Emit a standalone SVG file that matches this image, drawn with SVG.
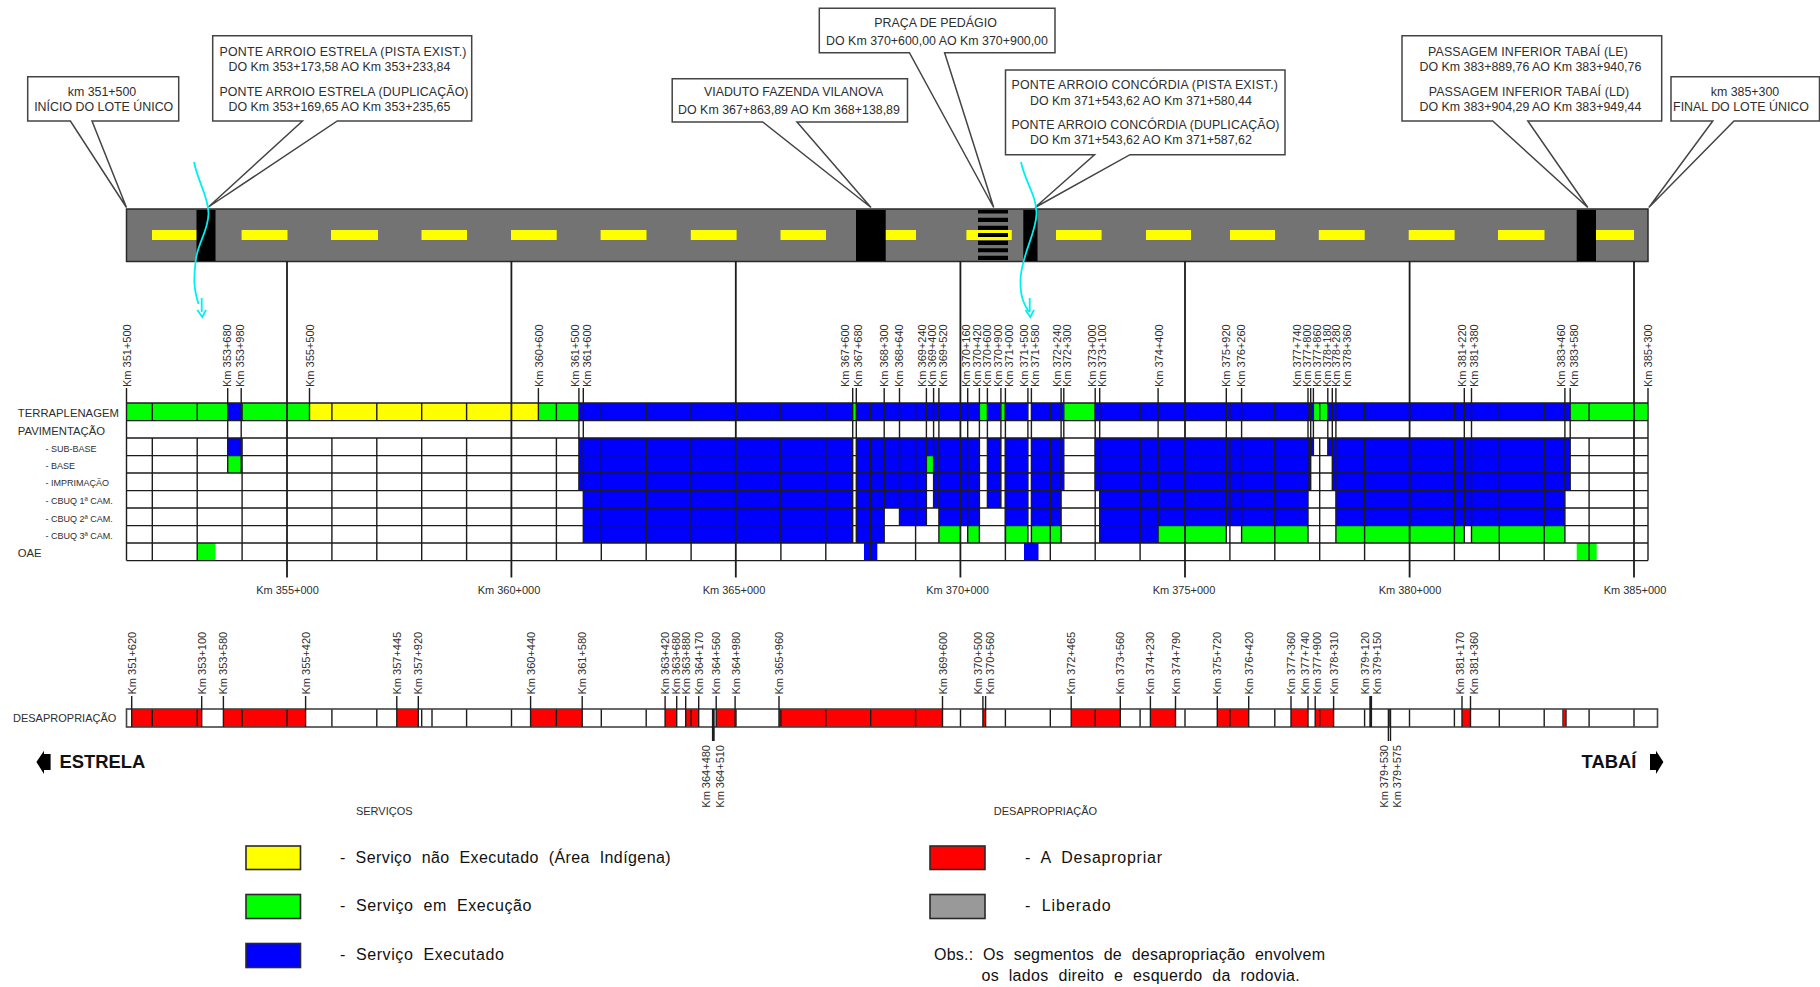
<svg xmlns="http://www.w3.org/2000/svg" width="1820" height="987" viewBox="0 0 1820 987">
<style>
text{font-family:"Liberation Sans",Arial,sans-serif;fill:#2e2e2e}
.c{font-size:12.4px}
.m{text-anchor:middle}
.k{font-size:11px}
.row{font-size:11.3px}
.sub{font-size:9px}
.dir{font-size:18.4px;font-weight:bold;fill:#111}
.leg{font-size:16px;fill:#111;word-spacing:5px}
.box{fill:#fff;stroke:#444;stroke-width:1.5}
.ln{fill:none;stroke:#1c1c1c;stroke-width:1.4}
.thick{fill:none;stroke:#1c1c1c;stroke-width:1.8}
.cy{fill:none;stroke:#00f0f0;stroke-width:1.8}
.sw{stroke:#2a2a2a;stroke-width:1.6}
</style>
<rect width="1820" height="987" fill="#fff"/>

<g id="road">
<rect x="126.5" y="209" width="1521.5" height="52.5" fill="#737373" stroke="#2a2a2a" stroke-width="1.5"/>
<path fill="#ff0" d="M152 230H197V240H152ZM241.6 230H287.5V240H241.6ZM331 230H378V240H331ZM421.5 230H467V240H421.5ZM511 230H556.7V240H511ZM600.6 230H646.5V240H600.6ZM690.8 230H736.6V240H690.8ZM780.5 230H826V240H780.5ZM885 230H916V240H885ZM966.4 230H1011.8V240H966.4ZM1056 230H1101.6V240H1056ZM1146 230H1191V240H1146ZM1230 230H1275V240H1230ZM1318.8 230H1364.7V240H1318.8ZM1408.7 230H1454.6V240H1408.7ZM1498 230H1544.5V240H1498ZM1596 230H1634V240H1596Z"/>
<path fill="#000" d="M196.5 210H215.5V261H196.5ZM856 210H885.7V261H856ZM1023.3 210H1037.5V261H1023.3ZM1576.7 210H1596V261H1576.7Z"/>
<path fill="#000" d="M978 210H1008V213.5H978ZM978 217.7H1008V222H978ZM978 225.7H1008V230H978ZM978 233H1008V237H978ZM978 240.7H1008V245H978ZM978 248.3H1008V252.3H978ZM978 255.7H1008V260H978Z"/>
</g>

<g id="callout-inicio">
<path class="box" d="M27.7 76.7H178.7V121H92L126.5 207.5L70.4 121H27.7Z"/>
<text class="c m" x="102" y="95.5">km 351+500</text>
<text class="c m" x="103.7" y="110.5">INÍCIO DO LOTE ÚNICO</text>
</g>
<g id="callout-ponte-estrela">
<path class="box" d="M212.7 35.7H471.7V121H337.3L208.4 207L302.5 121H212.7Z"/>
<text class="c" x="219.5" y="55.5" textLength="247" lengthAdjust="spacing">PONTE ARROIO ESTRELA (PISTA EXIST.)</text>
<text class="c" x="228.5" y="70.7">DO Km 353+173,58 AO Km 353+233,84</text>
<text class="c" x="219.5" y="95.7" textLength="249" lengthAdjust="spacing">PONTE ARROIO ESTRELA (DUPLICAÇÃO)</text>
<text class="c" x="228.5" y="110.5">DO Km 353+169,65 AO Km 353+235,65</text>
</g>
<g id="callout-viaduto">
<path class="box" d="M672.2 78.7H907.5V122H797L871 207.5L762.7 122H672.2Z"/>
<text class="c m" x="793.6" y="96.2">VIADUTO FAZENDA VILANOVA</text>
<text class="c m" x="789" y="114.2">DO Km 367+863,89 AO Km 368+138,89</text>
</g>
<g id="callout-pedagio">
<path class="box" d="M819.3 8.3H1055V52.7H944.6L993.7 207.5L909.4 52.7H819.3Z"/>
<text class="c m" x="935.5" y="27.3">PRAÇA DE PEDÁGIO</text>
<text class="c m" x="937" y="45.3">DO Km 370+600,00 AO Km 370+900,00</text>
</g>
<g id="callout-ponte-concordia">
<path class="box" d="M1005.5 70H1285V154.7H1130L1035 207.5L1094.5 154.7H1005.5Z"/>
<text class="c" x="1011.5" y="89.3" textLength="266.5" lengthAdjust="spacing">PONTE ARROIO CONCÓRDIA (PISTA EXIST.)</text>
<text class="c" x="1030" y="104.7">DO Km 371+543,62 AO Km 371+580,44</text>
<text class="c" x="1011.5" y="128.7" textLength="268" lengthAdjust="spacing">PONTE ARROIO CONCÓRDIA (DUPLICAÇÃO)</text>
<text class="c" x="1030" y="144.3">DO Km 371+543,62 AO Km 371+587,62</text>
</g>
<g id="callout-tabai">
<path class="box" d="M1402 35.7H1661.7V121H1527.8L1587.8 207.5L1492.7 121H1402Z"/>
<text class="c" x="1428" y="55.5" textLength="199.8" lengthAdjust="spacing">PASSAGEM INFERIOR TABAÍ (LE)</text>
<text class="c m" x="1530.4" y="70.7">DO Km 383+889,76 AO Km 383+940,76</text>
<text class="c" x="1428.7" y="95.7" textLength="200.5" lengthAdjust="spacing">PASSAGEM INFERIOR TABAÍ (LD)</text>
<text class="c m" x="1530.4" y="110.5">DO Km 383+904,29 AO Km 383+949,44</text>
</g>
<g id="callout-final">
<path class="box" d="M1671 76.7H1819.5V121H1734L1648.8 207.5L1712.8 121H1671Z"/>
<text class="c m" x="1745" y="95.5">km 385+300</text>
<text class="c m" x="1741" y="110.5">FINAL DO LOTE ÚNICO</text>
</g>

<g id="tabela-servicos">
<path fill="#00f" d="M227.7 403H241.2V420.6H227.7ZM578.9 403H852.7V420.6H578.9ZM856.3 403H979.4V420.6H856.3ZM987.4 403H1000.9V420.6H987.4ZM1005.4 403H1027.9V420.6H1005.4ZM1031.4 403H1063.8V420.6H1031.4ZM1095.2 403H1313.4V420.6H1095.2ZM1327.8 403H1570.2V420.6H1327.8Z
M227.7 438H241.2V455.6H227.7ZM578.9 438H852.7V455.6H578.9ZM856.3 438H979.4V455.6H856.3ZM987.4 438H1000.9V455.6H987.4ZM1005.4 438H1027.9V455.6H1005.4ZM1031.4 438H1063.8V455.6H1031.4ZM1095.2 438H1313.4V455.6H1095.2ZM1327.8 438H1570.2V455.6H1327.8Z
M578.9 455.6H852.7V490.6H578.9ZM856.3 455.6H926.4V490.6H856.3ZM933.6 455.6H979.4V490.6H933.6ZM987.4 455.6H1000.9V490.6H987.4ZM1005.4 455.6H1027.9V490.6H1005.4ZM1031.4 455.6H1063.8V490.6H1031.4ZM1095.2 455.6H1310.7V490.6H1095.2ZM1332.3 455.6H1570.2V490.6H1332.3Z
M583.3 490.6H852.7V508H583.3ZM856.3 490.6H926.4V508H856.3ZM933.6 490.6H979.4V508H933.6ZM987.4 490.6H1000.9V508H987.4ZM1005.4 490.6H1027.9V508H1005.4ZM1031.4 490.6H1061.1V508H1031.4ZM1099.7 490.6H1308V508H1099.7ZM1335.9 490.6H1564.9V508H1335.9Z
M583.3 508H852.7V525.6H583.3ZM856.3 508H884.2V525.6H856.3ZM899.5 508H926.4V525.6H899.5ZM938.9 508H979.4V525.6H938.9ZM1005.4 508H1027.9V525.6H1005.4ZM1031.4 508H1061.1V525.6H1031.4ZM1099.7 508H1308V525.6H1099.7ZM1335.9 508H1564.9V525.6H1335.9Z
M583.3 525.6H852.7V543H583.3ZM856.3 525.6H884.2V543H856.3ZM1099.7 525.6H1158.1V543H1099.7Z
M864 543H877.3V560.6H864ZM1024 543H1038.5V560.6H1024Z"/>
<path fill="#0f0" d="M126.5 403H227.7V420.6H126.5ZM241.2 403H309.5V420.6H241.2ZM538.4 403H578.9V420.6H538.4ZM852.7 403H856.3V420.6H852.7ZM979.4 403H987.4V420.6H979.4ZM1000.9 403H1005.4V420.6H1000.9ZM1063.8 403H1095.2V420.6H1063.8ZM1313.4 403H1327.8V420.6H1313.4ZM1570.2 403H1647.5V420.6H1570.2Z
M227.7 455.6H241.2V473H227.7ZM926.4 455.6H933.6V473H926.4Z
M938.9 525.6H960.5V543H938.9ZM967.7 525.6H979.4V543H967.7ZM1005.4 525.6H1027.9V543H1005.4ZM1031.4 525.6H1061.1V543H1031.4ZM1158.1 525.6H1226.3V543H1158.1ZM1241.6 525.6H1308V543H1241.6ZM1335.9 525.6H1464.3V543H1335.9ZM1471.5 525.6H1564.9V543H1471.5Z
M197.2 543H215.5V560.6H197.2ZM1576.7 543H1596.7V560.6H1576.7Z"/>
<path fill="#ff0" d="M309.5 403H538.4V420.6H309.5Z"/>
<path class="ln" d="M126.5 403H1648M126.5 420.6H1648M126.5 438H1648M126.5 455.6H1648M126.5 473H1648M126.5 490.6H1648M126.5 508H1648M126.5 525.6H1648M126.5 543H1648M126.5 560.6H1648M126.5 403V560.6M1648 403V560.6"/>
<path class="ln" d="M152.3 403V420.6M197.2 403V420.6M242.1 403V420.6M331.9 403V420.6M376.8 403V420.6M421.7 403V420.6M466.6 403V420.6M556.4 403V420.6M601.3 403V420.6M646.2 403V420.6M691.1 403V420.6M780.9 403V420.6M825.8 403V420.6M870.7 403V420.6M915.6 403V420.6M1005.4 403V420.6M1050.3 403V420.6M1095.2 403V420.6M1140.1 403V420.6M1229.9 403V420.6M1274.8 403V420.6M1319.7 403V420.6M1364.6 403V420.6M1454.4 403V420.6M1499.3 403V420.6M1544.2 403V420.6M1589.1 403V420.6
M152.3 438V560.6M197.2 438V560.6M242.1 438V560.6M331.9 438V560.6M376.8 438V560.6M421.7 438V560.6M466.6 438V560.6M556.4 438V560.6M601.3 438V560.6M646.2 438V560.6M691.1 438V560.6M780.9 438V560.6M825.8 438V560.6M870.7 438V560.6M915.6 438V560.6M1005.4 438V560.6M1050.3 438V560.6M1095.2 438V560.6M1140.1 438V560.6M1229.9 438V560.6M1274.8 438V560.6M1319.7 438V560.6M1364.6 438V560.6M1454.4 438V560.6M1499.3 438V560.6M1544.2 438V560.6M1589.1 438V560.6"/>
<text class="row" x="17.8" y="416.5">TERRAPLENAGEM</text>
<text class="row" x="17.8" y="434.5">PAVIMENTAÇÃO</text>
<text class="sub" x="45.5" y="452">- SUB-BASE</text>
<text class="sub" x="45.5" y="469">- BASE</text>
<text class="sub" x="45.5" y="486">- IMPRIMAÇÃO</text>
<text class="sub" x="45.5" y="504.3">- CBUQ 1ª CAM.</text>
<text class="sub" x="45.5" y="521.6">- CBUQ 2ª CAM.</text>
<text class="sub" x="45.5" y="539">- CBUQ 3ª CAM.</text>
<text class="row" x="17.8" y="557">OAE</text>
</g>

<g id="faixa-desapropriacao">
<rect x="126.5" y="709" width="1531" height="18" fill="#fff"/>
<path fill="#f00" d="M131.7 709H201.7V727H131.7ZM223.4 709H305.6V727H223.4ZM396.8 709H418.3V727H396.8ZM530.6 709H582.2V727H530.6ZM665.1 709H676.7V727H665.1ZM685.7 709H698.7V727H685.7ZM716.2 709H735.1V727H716.2ZM779 709H942.5V727H779ZM982.9 709H985.6V727H982.9ZM1071.2 709H1120.3V727H1071.2ZM1150.4 709H1175.5V727H1150.4ZM1217.3 709H1248.7V727H1217.3ZM1291 709H1308V727H1291ZM1315.2 709H1333.6V727H1315.2ZM1388.4 709H1390.5V727H1388.4ZM1462 709H1470.5V727H1462ZM1563.4 709H1565.8V727H1563.4Z"/>
<path class="ln" d="M152.3 709V727M197.2 709V727M242.1 709V727M287 709V727M331.9 709V727M376.8 709V727M421.7 709V727M466.6 709V727M511.5 709V727M556.4 709V727M601.3 709V727M646.2 709V727M691.1 709V727M736 709V727M780.9 709V727M825.8 709V727M870.7 709V727M915.6 709V727M960.5 709V727M1005.4 709V727M1050.3 709V727M1095.2 709V727M1140.1 709V727M1185 709V727M1229.9 709V727M1274.8 709V727M1319.7 709V727M1364.6 709V727M1409.5 709V727M1454.4 709V727M1499.3 709V727M1544.2 709V727M1589.1 709V727M1634 709V727M432 709V727M1563 709V727M1566 709V727"/>
<rect x="126.5" y="709" width="1531" height="18" fill="none" stroke="#444" stroke-width="1.6"/>
<text class="k" x="13" y="722.2">DESAPROPRIAÇÃO</text>
</g>

<g id="connectors">
<path class="thick" d="M287 261V577.5M511.4 261V577.5M735.8 261V577.5M960.4 261V577.5M1185 261V577.5M1409.6 261V577.5M1634 261V577.5"/>
<path class="ln" d="M126.5 388V403M1648 388V403"/>
<path class="ln" d="M309.5 388V420.6M538.4 388V420.6M1313.4 388V455.6M1327.8 388V455.6M227.7 388V473M241.2 388V473M578.9 388V490.6M1063.8 388V490.6M1095.2 388V490.6M1310.7 388V490.6M1332.3 388V490.6M1570.2 388V490.6M933.6 388V508M987.4 388V508M1000.9 388V508M899.5 388V525.6M926.4 388V525.6"/>
<path class="ln" d="M583.3 388V543M852.7 388V543M856.3 388V543M884.2 388V543M938.9 388V543M967.7 388V543M979.4 388V543M1005.4 388V543M1027.9 388V543M1031.4 388V543M1061.1 388V543M1099.7 388V543M1158.1 388V543M1226.3 388V543M1241.6 388V543M1308 388V543M1335.9 388V543M1464.3 388V543M1471.5 388V543M1564.9 388V543"/>
<path class="ln" d="M131.7 696V727M201.7 696V727M223.4 696V727M305.6 696V727M396.8 696V727M418.3 696V727M530.6 696V727M582.2 696V727M665.1 696V727M676.7 696V727M685.7 696V727M698.7 696V727M716.2 696V727M735.1 696V727M779 696V727M942.5 696V727M982.9 696V727M985.6 696V727M1071.2 696V727M1120.3 696V727M1150.4 696V727M1175.5 696V727M1217.3 696V727M1248.7 696V727M1291 696V727M1308 696V727M1315.2 696V727M1333.6 696V727M1370 696V727M1371.4 696V727M1462 696V727M1470.5 696V727"/>
<path class="ln" d="M712.6 709V741M714 709V741M1388.4 709V741M1390.5 709V741"/>
<path class="cy" d="M194 162C198 182 209 198 208.5 214C208 232 197 244 195.5 262C194 278 193 286 198.5 304M1021 162C1025 182 1037 196 1036.5 214C1036 234 1021 256 1020.5 280C1020 298 1025 306 1029 312"/>
<path class="cy" d="M201.7 298V312M197.3 310L202.3 317L206 310M1029.7 298V312M1025.5 310L1030.3 317L1034 310"/>
</g>

<g id="km-tabela">
<text class="k m" x="287.5" y="594">Km 355+000</text>
<text class="k m" x="509" y="594">Km 360+000</text>
<text class="k m" x="734" y="594">Km 365+000</text>
<text class="k m" x="957.5" y="594">Km 370+000</text>
<text class="k m" x="1184" y="594">Km 375+000</text>
<text class="k m" x="1410" y="594">Km 380+000</text>
<text class="k m" x="1635" y="594">Km 385+000</text>
<text class="k" transform="translate(131.3 387) rotate(-90)">Km 351+500</text>
<text class="k" transform="translate(231 387) rotate(-90)">Km 353+680</text>
<text class="k" transform="translate(244.4 387) rotate(-90)">Km 353+980</text>
<text class="k" transform="translate(314.4 387) rotate(-90)">Km 355+500</text>
<text class="k" transform="translate(542.5 387) rotate(-90)">Km 360+600</text>
<text class="k" transform="translate(578.5 387) rotate(-90)">Km 361+500</text>
<text class="k" transform="translate(591.2 387) rotate(-90)">Km 361+600</text>
<text class="k" transform="translate(849 387) rotate(-90)">Km 367+600</text>
<text class="k" transform="translate(861.7 387) rotate(-90)">Km 367+680</text>
<text class="k" transform="translate(888.3 387) rotate(-90)">Km 368+300</text>
<text class="k" transform="translate(902.7 387) rotate(-90)">Km 368+640</text>
<text class="k" transform="translate(925.7 387) rotate(-90)">Km 369+240</text>
<text class="k" transform="translate(936.3 387) rotate(-90)">Km 369+400</text>
<text class="k" transform="translate(946.7 387) rotate(-90)">Km 369+520</text>
<text class="k" transform="translate(970 387) rotate(-90)">Km 370+160</text>
<text class="k" transform="translate(981 387) rotate(-90)">Km 370+420</text>
<text class="k" transform="translate(991.3 387) rotate(-90)">Km 370+600</text>
<text class="k" transform="translate(1002.3 387) rotate(-90)">Km 370+900</text>
<text class="k" transform="translate(1013.3 387) rotate(-90)">Km 371+000</text>
<text class="k" transform="translate(1028 387) rotate(-90)">Km 371+500</text>
<text class="k" transform="translate(1038.7 387) rotate(-90)">Km 371+580</text>
<text class="k" transform="translate(1060.7 387) rotate(-90)">Km 372+240</text>
<text class="k" transform="translate(1071 387) rotate(-90)">Km 372+300</text>
<text class="k" transform="translate(1095.7 387) rotate(-90)">Km 373+000</text>
<text class="k" transform="translate(1106 387) rotate(-90)">Km 373+100</text>
<text class="k" transform="translate(1163 387) rotate(-90)">Km 374+400</text>
<text class="k" transform="translate(1230 387) rotate(-90)">Km 375+920</text>
<text class="k" transform="translate(1245.3 387) rotate(-90)">Km 376+260</text>
<text class="k" transform="translate(1300.7 387) rotate(-90)">Km 377+740</text>
<text class="k" transform="translate(1311 387) rotate(-90)">Km 377+800</text>
<text class="k" transform="translate(1320.7 387) rotate(-90)">Km 377+860</text>
<text class="k" transform="translate(1330.7 387) rotate(-90)">Km 378+180</text>
<text class="k" transform="translate(1340 387) rotate(-90)">Km 378+280</text>
<text class="k" transform="translate(1350.7 387) rotate(-90)">Km 378+360</text>
<text class="k" transform="translate(1465.7 387) rotate(-90)">Km 381+220</text>
<text class="k" transform="translate(1478 387) rotate(-90)">Km 381+380</text>
<text class="k" transform="translate(1565.3 387) rotate(-90)">Km 383+460</text>
<text class="k" transform="translate(1578 387) rotate(-90)">Km 383+580</text>
<text class="k" transform="translate(1652 387) rotate(-90)">Km 385+300</text>
</g>

<g id="km-desapropriacao">
<text class="k" transform="translate(136 694.5) rotate(-90)">Km 351+620</text>
<text class="k" transform="translate(206 694.5) rotate(-90)">Km 353+100</text>
<text class="k" transform="translate(227.4 694.5) rotate(-90)">Km 353+580</text>
<text class="k" transform="translate(310.4 694.5) rotate(-90)">Km 355+420</text>
<text class="k" transform="translate(400.6 694.5) rotate(-90)">Km 357+445</text>
<text class="k" transform="translate(422.3 694.5) rotate(-90)">Km 357+920</text>
<text class="k" transform="translate(535 694.5) rotate(-90)">Km 360+440</text>
<text class="k" transform="translate(586 694.5) rotate(-90)">Km 361+580</text>
<text class="k" transform="translate(669 694.5) rotate(-90)">Km 363+420</text>
<text class="k" transform="translate(680 694.5) rotate(-90)">Km 363+680</text>
<text class="k" transform="translate(690 694.5) rotate(-90)">Km 363+880</text>
<text class="k" transform="translate(703 694.5) rotate(-90)">Km 364+170</text>
<text class="k" transform="translate(720 694.5) rotate(-90)">Km 364+560</text>
<text class="k" transform="translate(739.5 694.5) rotate(-90)">Km 364+980</text>
<text class="k" transform="translate(783 694.5) rotate(-90)">Km 365+960</text>
<text class="k" transform="translate(946.5 694.5) rotate(-90)">Km 369+600</text>
<text class="k" transform="translate(981.6 694.5) rotate(-90)">Km 370+500</text>
<text class="k" transform="translate(994 694.5) rotate(-90)">Km 370+560</text>
<text class="k" transform="translate(1075 694.5) rotate(-90)">Km 372+465</text>
<text class="k" transform="translate(1124.3 694.5) rotate(-90)">Km 373+560</text>
<text class="k" transform="translate(1154 694.5) rotate(-90)">Km 374+230</text>
<text class="k" transform="translate(1180 694.5) rotate(-90)">Km 374+790</text>
<text class="k" transform="translate(1221 694.5) rotate(-90)">Km 375+720</text>
<text class="k" transform="translate(1252.5 694.5) rotate(-90)">Km 376+420</text>
<text class="k" transform="translate(1295 694.5) rotate(-90)">Km 377+360</text>
<text class="k" transform="translate(1309 694.5) rotate(-90)">Km 377+740</text>
<text class="k" transform="translate(1321.4 694.5) rotate(-90)">Km 377+900</text>
<text class="k" transform="translate(1337.6 694.5) rotate(-90)">Km 378+310</text>
<text class="k" transform="translate(1368.5 694.5) rotate(-90)">Km 379+120</text>
<text class="k" transform="translate(1380.7 694.5) rotate(-90)">Km 379+150</text>
<text class="k" transform="translate(1463.8 694.5) rotate(-90)">Km 381+170</text>
<text class="k" transform="translate(1477.6 694.5) rotate(-90)">Km 381+360</text>
<text class="k" transform="translate(710.4 807.7) rotate(-90)">Km 364+480</text>
<text class="k" transform="translate(723.8 807.7) rotate(-90)">Km 364+510</text>
<text class="k" transform="translate(1387.9 807.7) rotate(-90)">Km 379+530</text>
<text class="k" transform="translate(1400.5 807.7) rotate(-90)">Km 379+575</text>
</g>

<g id="sentido-estrela">
<path fill="#000" d="M36.4 762L44 750.7V754H50.6V770H44V774Z"/>
<text class="dir" x="59.5" y="767.5">ESTRELA</text>
</g>
<g id="sentido-tabai">
<path fill="#000" d="M1663.4 762L1656 750.7V754H1650V770H1656V774Z"/>
<text class="dir" x="1581.6" y="767.5">TABAÍ</text>
</g>

<g id="legenda-servicos">
<text class="k" x="355.9" y="814.7">SERVIÇOS</text>
<rect class="sw" x="246" y="846" width="54.5" height="23.5" fill="#ff0"/>
<rect class="sw" x="246" y="894.5" width="54.5" height="24" fill="#0f0"/>
<rect class="sw" x="246" y="943.5" width="54.5" height="24" fill="#00f"/>
<text class="leg" x="340" y="862.5" textLength="330.6" lengthAdjust="spacing">- Serviço não Executado (Área Indígena)</text>
<text class="leg" x="340" y="911.2" textLength="191.4" lengthAdjust="spacing">- Serviço em Execução</text>
<text class="leg" x="340" y="960.2" textLength="163.8" lengthAdjust="spacing">- Serviço Executado</text>
</g>
<g id="legenda-desapropriacao">
<text class="k" x="993.8" y="814.7">DESAPROPRIAÇÃO</text>
<rect class="sw" x="930" y="846" width="55" height="23.5" fill="#f00"/>
<rect class="sw" x="930" y="894.5" width="55" height="24" fill="#999"/>
<text class="leg" x="1025" y="862.5" textLength="137" lengthAdjust="spacing">- A Desapropriar</text>
<text class="leg" x="1025" y="911.2" textLength="85.7" lengthAdjust="spacing">- Liberado</text>
<text class="leg" x="934" y="960.2" textLength="391" lengthAdjust="spacing">Obs.: Os segmentos de desapropriação envolvem</text>
<text class="leg" x="981.4" y="981.2" textLength="318.3" lengthAdjust="spacing">os lados direito e esquerdo da rodovia.</text>
</g>
</svg>
